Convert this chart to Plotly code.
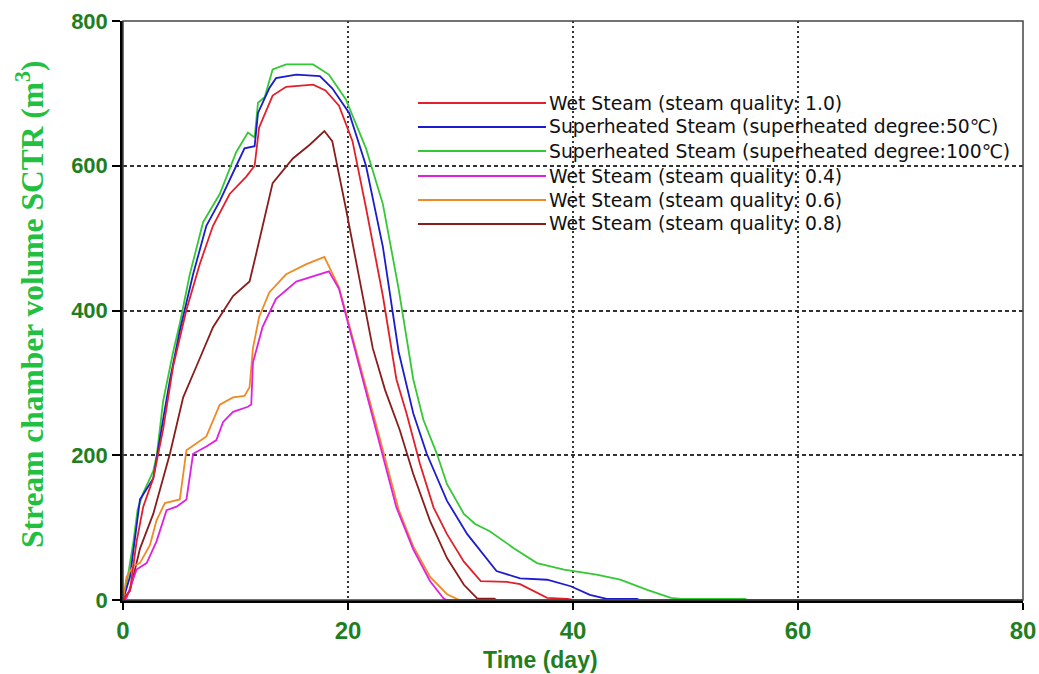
import plotly.graph_objects as go

# ---------------- data ----------------
names = [
    "Wet Steam (steam quality: 1.0)",
    "Superheated Steam (superheated degree:50\u2103)",
    "Superheated Steam (superheated degree:100\u2103)",
    "Wet Steam (steam quality: 0.4)",
    "Wet Steam (steam quality: 0.6)",
    "Wet Steam (steam quality: 0.8)",
]
colors = ["#e3202a", "#1c1ccf", "#35c835", "#e020e0", "#f08a24", "#8b1c1c"]

red_x = [0, 0.62, 1.2, 1.8, 2.69, 3.57, 4.46, 5.64, 6.82, 8.0, 9.48, 10.96, 11.7, 12.1, 13.3, 14.5, 16.9, 18.0, 19.2, 20.4, 21.6, 23.1, 24.3, 25.2, 26.4, 27.6, 28.8, 30.3, 31.8, 34.1, 35.3, 36.5, 37.7, 39.5, 40.0, 80]
red_y = [0, 13, 80, 129, 168, 236, 323, 401, 464, 517, 561, 585, 600, 653, 697, 709, 712, 704, 683, 634, 542, 420, 305, 258, 188, 128, 91, 53, 26, 25, 22, 12, 3, 1.5, 0, 0]

blue_x = [0, 0.62, 1.51, 2.69, 3.57, 4.17, 5.05, 6.23, 7.41, 8.6, 10.07, 10.8, 11.7, 12.0, 13.0, 13.6, 15.4, 17.5, 18.6, 20.1, 21.6, 23.1, 24.5, 25.1, 25.8, 27.0, 28.8, 30.6, 31.8, 33.2, 35.3, 37.7, 39.8, 41.5, 43.0, 45.7, 45.9, 80]
blue_y = [0, 32, 139, 168, 250, 304, 372, 450, 517, 551, 600, 624, 627, 673, 707, 721, 726, 724, 707, 673, 600, 488, 343, 305, 258, 202, 137, 91, 67, 40, 30, 28, 19, 7, 1.5, 1.5, 0, 0]

green_x = [0, 0.4, 0.92, 1.3, 1.8, 2.69, 3.0, 3.57, 4.46, 5.05, 5.94, 7.12, 8.6, 10.07, 11.1, 11.7, 12.0, 12.6, 13.3, 14.5, 16.9, 18.3, 19.8, 21.6, 23.1, 24.5, 25.8, 26.7, 27.9, 28.8, 30.3, 31.3, 32.6, 34.7, 36.8, 39.2, 42.1, 44.2, 46.6, 48.7, 49.6, 55.3, 55.5, 80]
green_y = [0, 30, 80, 125, 148, 178, 200, 275, 343, 382, 450, 522, 561, 619, 646, 639, 687, 695, 733, 740, 740, 726, 692, 624, 547, 430, 305, 249, 202, 160, 119, 105, 95, 72, 51, 42, 35, 28, 14, 3, 1.5, 1.5, 0, 0]

magenta_x = [0, 0.32, 1.2, 2.1, 2.98, 3.87, 4.76, 5.64, 6.23, 7.41, 8.3, 8.9, 9.78, 11.1, 11.4, 11.55, 12.4, 13.6, 15.4, 17.5, 18.3, 19.2, 21.0, 22.8, 24.3, 25.8, 27.3, 28.5, 28.8, 80]
magenta_y = [0, 3, 42, 51, 81, 124, 129, 139, 202, 212, 221, 246, 260, 267, 270, 328, 377, 416, 440, 450, 454, 430, 323, 217, 128, 70, 26, 2, 0, 0]

orange_x = [0, 0.32, 0.92, 1.5, 2.4, 2.98, 3.72, 5.05, 5.64, 7.41, 8.6, 9.78, 10.8, 11.25, 11.55, 12.1, 13.0, 14.5, 16.3, 17.9, 19.2, 21.0, 22.8, 24.5, 25.8, 27.3, 28.8, 29.9, 80]
orange_y = [0, 32, 47, 51, 76, 110, 134, 139, 207, 226, 270, 280, 282, 294, 348, 391, 425, 450, 464, 474, 432, 330, 225, 125, 74, 32, 8, 0, 0]

brown_x = [0, 0.62, 1.51, 2.69, 4.17, 5.35, 6.53, 8.0, 9.78, 11.25, 11.85, 13.3, 15.1, 16.6, 17.9, 18.6, 19.8, 21.0, 22.2, 23.3, 24.6, 25.8, 27.3, 28.8, 30.3, 31.5, 33.0, 33.2, 80]
brown_y = [0, 13, 71, 119, 202, 280, 323, 377, 420, 440, 479, 576, 610, 629, 648, 634, 542, 445, 348, 290, 235, 174, 109, 58, 21, 2, 2, 0, 0]

xs = [red_x, blue_x, green_x, magenta_x, orange_x, brown_x]
ys = [red_y, blue_y, green_y, magenta_y, orange_y, brown_y]

x_ticks = [0, 20, 40, 60, 80]
y_ticks = [0, 200, 400, 600, 800]

# ---------------- figure ----------------
W, H = 1039, 674
L, R, T, B = 123, 16, 21, 74
pw, ph = W - L - R, H - T - B

fig = go.Figure()
draw_order = [2, 1, 5, 4, 3, 0]
for i in draw_order:
    fig.add_trace(go.Scatter(x=xs[i], y=ys[i], mode="lines", name=names[i],
                             line=dict(color=colors[i], width=1.8),
                             showlegend=False))

# manual legend (long line samples like the reference)
leg_rows = [103, 127, 151, 176, 200, 224]
for i, py in enumerate(leg_rows):
    yp = (H - B - py) / ph
    fig.add_shape(type="line", xref="paper", yref="paper",
                  x0=(418 - L) / pw, x1=(546 - L) / pw, y0=yp, y1=yp,
                  line=dict(color=colors[i], width=2))
    fig.add_annotation(xref="paper", yref="paper", x=(547 - L) / pw, y=yp,
                       xanchor="left", yanchor="middle", showarrow=False,
                       text=names[i],
                       font=dict(family="DejaVu Sans, Liberation Sans, Arial, sans-serif",
                                 size=18.8, color="#111111"))

# frame (top/right thin lines)
fig.add_shape(type="rect", xref="paper", yref="paper", x0=0, x1=1, y0=0, y1=1,
              line=dict(color="#444444", width=1.5), layer="above")

fig.update_layout(
    width=W, height=H,
    margin=dict(l=L, r=R, t=T, b=B),
    paper_bgcolor="white", plot_bgcolor="white",
    showlegend=False,
)
fig.update_xaxes(range=[0, 80], tickvals=x_ticks, ticks="outside", ticklen=7,
                 tickwidth=2, tickcolor="black", automargin=False,
                 showline=True, linecolor="black", linewidth=2.5,
                 showgrid=True, gridcolor="#333333", gridwidth=1.5, griddash="2px,3px",
                 zeroline=False,
                 tickfont=dict(family="Liberation Sans Narrow, Arial Narrow, Liberation Sans, Arial",
                               size=24, color="#1f7f1f", weight="bold"))
fig.update_yaxes(range=[0, 800], tickvals=y_ticks, ticks="outside", ticklen=8,
                 tickwidth=2, tickcolor="black", automargin=False,
                 showline=True, linecolor="black", linewidth=2.5,
                 showgrid=True, gridcolor="#333333", gridwidth=1.5, griddash="4px,3px",
                 zeroline=False,
                 tickfont=dict(family="Liberation Sans, Arial", size=22,
                               color="#1f7f1f", weight="bold"))

# axis titles
fig.add_annotation(xref="paper", yref="paper", x=(30 - L) / pw, y=(H - B - 304) / ph,
                   text="Stream chamber volume SCTR (m<sup>3</sup>)", textangle=-90,
                   showarrow=False, xanchor="center", yanchor="middle",
                   font=dict(family="Liberation Serif, Times New Roman, serif", size=31.5,
                             color="#22c040", weight="bold"))
fig.add_annotation(xref="paper", yref="paper", x=(540 - L) / pw, y=(H - B - 660) / ph,
                   text="Time (day)", showarrow=False, xanchor="center", yanchor="middle",
                   font=dict(family="Liberation Sans Narrow, Arial Narrow, Liberation Sans, Arial",
                             size=23, color="#1f7f1f", weight="bold"))

fig.write_html("out.html")
